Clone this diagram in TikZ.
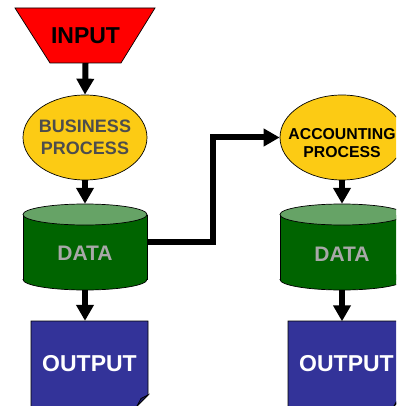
\documentclass[tikz,border=0pt]{standalone}
\usepackage{fontspec}
\setmainfont{Liberation Sans}
\usetikzlibrary{arrows.meta,shapes.geometric}
\definecolor{yel}{HTML}{FCCB14}
\definecolor{dgreen}{HTML}{006400}
\definecolor{lgreen}{HTML}{66A366}
\definecolor{dblue}{HTML}{333399}
\definecolor{fblue}{HTML}{1E1E66}
\definecolor{dgray}{HTML}{4D4D4D}
\definecolor{lgray}{HTML}{A8A8A8}
\newcommand\mycyl[1]{%
  \fill[dgreen] (#1-62,214.5) rectangle (#1+62,279.5);
  \fill[dgreen] (#1,279.5) ellipse [x radius=62, y radius=10.5];
  \begin{scope}
    \clip (#1-70,279.5) rectangle (#1+70,300);
    \draw[outl] (#1,279.5) ellipse [x radius=62, y radius=10.5];
  \end{scope}
  \draw[outl] (#1-62,214.5) -- (#1-62,279.5);
  \draw[outl] (#1+62,214.5) -- (#1+62,279.5);
  \filldraw[outl, fill=lgreen] (#1,214.5) ellipse [x radius=62, y radius=10.5];
}
\newcommand\mydoc[1]{%
  \filldraw[outl, fill=dblue] (#1-58.5,321) -- (#1+58.5,321) -- (#1+58.5,395) -- (#1+47.5,406) -- (#1+47.5,410) -- (#1-58.5,410) -- cycle;
  \filldraw[outl, fill=fblue] (#1+58.5,395) -- (#1+47.5,406) -- (#1+51.5,398.5) -- cycle;
}
\begin{document}
\begin{tikzpicture}[x=1pt,y=-1pt,
  outl/.style={draw=black, line width=0.7pt},
  flow/.style={line width=6pt, -{Triangle[width=17pt,length=16pt]}},
  proc/.style={ellipse, outl, fill=yel, minimum width=124pt, minimum height=85pt, inner sep=0pt},
  txt/.style={inner sep=0pt, align=center},
  box/.style={inner sep=0pt}]
\useasboundingbox (0,0) rectangle (396,406);
\begin{scope}
\clip (0,0) rectangle (396,406);
% input
\filldraw[outl, fill=red] (15,8) -- (155,8) -- (121,63) -- (50,63) -- cycle;
\node[box, minimum width=71pt, minimum height=55pt, font=\bfseries\fontsize{23}{23}\selectfont] (in) at (85.5,35.5) {INPUT};
% business process
\node[proc] (bp) at (85,137.5) {};
\node[txt, text=dgray, font=\bfseries\fontsize{18}{21.5}\selectfont] (bpt) at (85,137.5) {BUSINESS\\PROCESS};
% data 1
\mycyl{85}
\node[box, minimum width=124pt, minimum height=86pt] (d1) at (85,247) {};
\node[txt, text=lgray, font=\bfseries\fontsize{21}{21}\selectfont] (d1t) at (85,253.5) {DATA};
% output 1
\mydoc{89.5}
\node[box, minimum width=117pt, minimum height=85pt, text=white, font=\bfseries\fontsize{23}{23}\selectfont] (o1) at (89.5,363.5) {OUTPUT};
% accounting process
\node[proc] (ap) at (342,137.5) {};
\node[txt, text=black, font=\bfseries\fontsize{15.8}{17.5}\selectfont] (apt) at (342,143) {ACCOUNTING\\PROCESS};
% data 2
\mycyl{342}
\node[box, minimum width=124pt, minimum height=86pt] (d2) at (342,247) {};
\node[txt, text=lgray, font=\bfseries\fontsize{21}{21}\selectfont] (d2t) at (342,254) {DATA};
% output 2
\mydoc{346.5}
\node[box, minimum width=117pt, minimum height=85pt, text=white, font=\bfseries\fontsize{23}{23}\selectfont] (o2) at (346.5,364) {OUTPUT};
% connectors
\draw[flow] (in.south) -- (bp.north);
\draw[flow] (bp.south) -- (d1.north);
\draw[flow] (d1.south) -- (d1.south |- o1.north);
\draw[flow] (ap.south) -- (d2.north);
\draw[flow] (d2.south) -- (d2.south |- o2.north);
\coordinate (bend) at (213,242);
\draw[flow] ([yshift=5pt]d1.east) -- (bend) |- (ap.west);
\end{scope}
\end{tikzpicture}
\end{document}
